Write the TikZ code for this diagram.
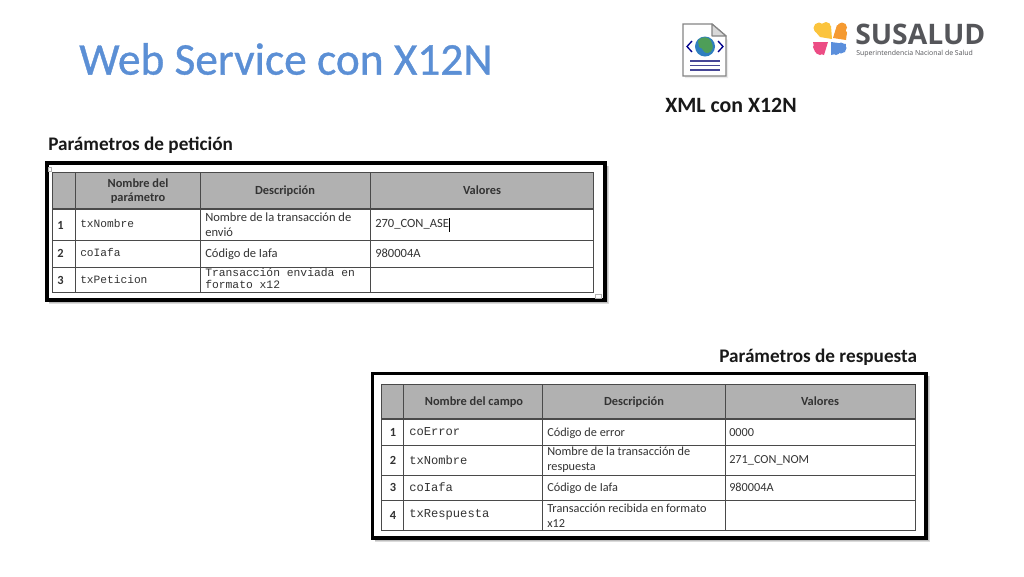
\documentclass[tikz,border=0pt]{standalone}
\usepackage{fontspec}
\setmainfont{Carlito}
\setmonofont{Liberation Mono}
\newfontfamily\logofont{Open Sans}
\newfontfamily\titlefont[FakeBold=0.8]{Carlito}
\definecolor{titleblue}{HTML}{5B8FD5}
\definecolor{headgray}{HTML}{B1B1B1}
\definecolor{rulegray}{HTML}{4A4A4A}
\definecolor{inktext}{HTML}{333333}
\definecolor{logogray}{HTML}{55565A}
\definecolor{logoyellow}{HTML}{FBC43D}
\definecolor{logoorange}{HTML}{F59A31}
\definecolor{logopink}{HTML}{EC4C84}
\definecolor{logoblue}{HTML}{5B8FDC}
\definecolor{globeblue}{HTML}{2F7FC0}
\definecolor{globegreen}{HTML}{4E9E58}
\tikzset{
  x=0.75pt,y=-0.75pt,
  frame/.style={draw=black,line width=2.6pt,fill=white},
  softshadow/.style={fill=black,draw=none,opacity=.14},
  tline/.style={draw=rulegray,line width=0.75pt},
  hcell/.style={font=\bfseries\fontsize{9.3}{11}\selectfont,text=inktext,align=center,inner sep=0pt},
  mcell/.style={font=\ttfamily\fontsize{8.4}{9.6}\selectfont,text=inktext,anchor=west,align=left,inner sep=0pt},
  mcellb/.style={font=\ttfamily\fontsize{9.1}{10}\selectfont,text=inktext,anchor=west,align=left,inner sep=0pt},
  dcell/.style={font=\fontsize{9.4}{11}\selectfont,text=inktext,anchor=west,align=left,inner sep=0pt},
  dcellb/.style={font=\fontsize{9.2}{11}\selectfont,text=inktext,anchor=west,align=left,inner sep=0pt},
  ncell/.style={font=\bfseries\fontsize{9.3}{11}\selectfont,text=inktext,inner sep=0pt},
  lbl/.style={font=\bfseries\fontsize{14.4}{16}\selectfont,text=black!90,anchor=west,inner sep=0pt},
}
\begin{document}
\begin{tikzpicture}
\useasboundingbox (0,0) rectangle (1024,576);
\fill[white] (0,0) rectangle (1024,576);
% title
\node[font=\titlefont\fontsize{34}{36}\selectfont,text=titleblue,anchor=west,inner sep=0pt] (title) at (79,59) {Web Service con X12N};
\node[lbl,font=\bfseries\fontsize{16.4}{18}\selectfont] (xmllabel) at (665,105) {XML con X12N};
\node[lbl] (petlabel) at (48,145) {Parámetros de petición};
\node[lbl] (resplabel) at (719,357) {Parámetros de respuesta};
% document icon
\fill[black!8] (685,27) -- (712,27) -- (728,40) -- (728,78) -- (685,78) -- cycle;
\draw[draw=black!48,fill=white,line width=0.9pt] (683,24) -- (712,24) -- (726,36) -- (726,76) -- (683,76) -- cycle;
\draw[draw=black!48,fill=black!15,line width=0.9pt,line join=round] (712,24) -- (712,36) -- (726,36) -- cycle;
\fill[globeblue] (705,46.5) circle (10);
\fill[globegreen] (698,41) .. controls (702,35) and (709,37) .. (711,41) .. controls (714,46) and (713,52) .. (708,53) .. controls (703,54) and (704,48) .. (699,47) -- cycle;
\draw[draw=blue!55!black,line width=1pt] (692,41) -- (687,46.5) -- (692,52);
\draw[draw=blue!55!black,line width=1pt] (718,41) -- (723,46.5) -- (718,52);
\draw[draw=black!30!blue!45!gray,line width=0.9pt] (690,61) -- (720,61) (690,65.5) -- (720,65.5) (690,70) -- (720,70);
% logo
\fill[logoyellow] (819,28) circle (5.5) (826,27) circle (5) (814,30) -- (831,26) -- (832,39) -- (820,37) -- cycle;
\fill[logoorange] (842,27.5) circle (5) (842,34) circle (5) (837,25) -- (847,32) -- (846,40) -- (833,38) -- cycle;
\fill[logopink] (818,47) circle (5) (820,50) circle (5) (813,42) -- (828,42) -- (824,55) -- (815,52) -- cycle;
\fill[logoblue] (841,48) circle (5.5) (836,51) circle (4) (831,42) -- (846,44) -- (845,52) -- (831,55) -- cycle;
\node[font=\logofont\bfseries\fontsize{21.2}{22}\selectfont,text=logogray,anchor=west,inner sep=0pt] (logoname) at (855,34) {SUSALUD};
\node[font=\logofont\fontsize{5.2}{6}\selectfont,text=logogray,anchor=west,inner sep=0pt] (logosub) at (856,53.5) {Superintendencia Nacional de Salud};
% first table
\fill[softshadow] (49,166) rectangle (609,304);
\fill[softshadow] (49,166) rectangle (608,303);
\draw[frame] (47,163) rectangle (605,300);
\fill[headgray] (52,172) rectangle (593,209);
\draw[tline] (52,172) rectangle (593,292);
\draw[tline] (75,172) -- (75,292) (200,172) -- (200,292) (370,172) -- (370,292);
\draw[tline,line width=1pt] (52,209) -- (593,209);
\draw[tline] (52,240) -- (593,240) (52,267) -- (593,267);
\draw[draw=black!30,line width=.4pt] (48,167) rectangle (51,171) (595,294) rectangle (601,298);
\node[hcell] (ah1) at (138,191) {Nombre del\\parámetro};
\node[hcell] (ah2) at (285,191) {Descripción};
\node[hcell] (ah3) at (482,190.5) {Valores};
\node[ncell] (an1) at (60.5,225) {1};
\node[ncell] (an2) at (60.5,253.5) {2};
\node[ncell] (an3) at (60.5,280) {3};
\node[mcell] (am1) at (80,223) {txNombre};
\node[mcell] (am2) at (80,252) {coIafa};
\node[mcell] (am3) at (80,279) {txPeticion};
\node[dcell] (ad1) at (205,224.5) {Nombre de la transacción de\\envió};
\node[dcell] (ad2) at (205,254) {Código de Iafa};
\node[mcell,font=\ttfamily\fontsize{8.5}{9.6}\selectfont] (ad3) at (205,278.5) {Transacción enviada en\\formato x12};
\node[dcell] (av1) at (375,224.5) {270\_CON\_ASE};
\draw[draw=black,line width=.5pt] (449,218) -- (449,232);
\node[dcell] (av2) at (375,253) {980004A};
% second table
\fill[softshadow] (375,376) rectangle (930,542);
\fill[softshadow] (375,376) rectangle (929,541);
\draw[frame] (372.5,373.5) rectangle (926,538);
\fill[headgray] (381,384) rectangle (915,419);
\draw[tline] (381,384) rectangle (915,530);
\draw[tline] (403,384) -- (403,530) (542,384) -- (542,530) (725,384) -- (725,530);
\draw[tline,line width=1pt] (381,419) -- (915,419);
\draw[tline] (381,445) -- (915,445) (381,475) -- (915,475) (381,500) -- (915,500);
\node[hcell] (bh1) at (474,402) {Nombre del campo};
\node[hcell] (bh2) at (634,402.5) {Descripción};
\node[hcell] (bh3) at (820,401.5) {Valores};
\node[ncell] (bn1) at (393,432.5) {1};
\node[ncell] (bn2) at (393,460) {2};
\node[ncell] (bn3) at (393,487.5) {3};
\node[ncell] (bn4) at (393,515) {4};
\node[mcellb] (bm1) at (409,432) {coError};
\node[mcellb] (bm2) at (409,460) {txNombre};
\node[mcellb] (bm3) at (409,487.5) {coIafa};
\node[mcellb] (bm4) at (409,515) {txRespuesta};
\node[dcellb] (bd1) at (547,433) {Código de error};
\node[dcellb] (bd2) at (547,460) {Nombre de la transacción de\\respuesta};
\node[dcellb] (bd3) at (547,488) {Código de Iafa};
\node[dcellb] (bd4) at (547,515.5) {Transacción recibida en formato\\x12};
\node[dcellb] (bv1) at (729,432.5) {0000};
\node[dcellb] (bv2) at (729,460) {271\_CON\_NOM};
\node[dcellb] (bv3) at (729,487.5) {980004A};
\end{tikzpicture}
\end{document}
